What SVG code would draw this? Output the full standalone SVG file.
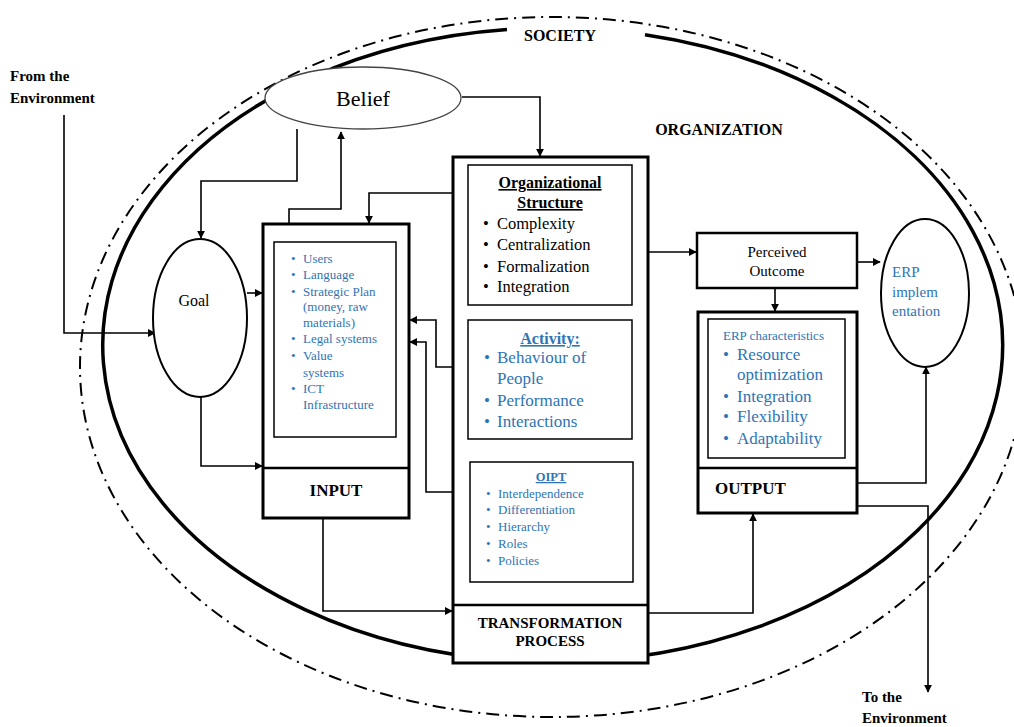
<svg xmlns="http://www.w3.org/2000/svg" width="1014" height="727" viewBox="0 0 1014 727" font-family="'Liberation Serif', serif">
<style>
.t{font-family:"Liberation Serif","Times New Roman",serif;fill:#000}
.b{font-weight:bold}
.blue{fill:#2e74b5}
.box{fill:#fff;stroke:#000;stroke-width:3}
.inbox{fill:#fff;stroke:#000;stroke-width:1.5}
.ln{fill:none;stroke:#000;stroke-width:1.6}
.u{text-decoration:underline}
</style>
<defs>
<marker id="ah" viewBox="0 0 10 10" refX="9" refY="5" markerWidth="8" markerHeight="8" markerUnits="userSpaceOnUse" orient="auto"><path d="M0,0 L10,5 L0,10 z" fill="#000"/></marker>
</defs>
<rect width="1014" height="727" fill="#fff"/>
<g id="society">
<ellipse cx="552" cy="367" rx="472" ry="350" fill="none" stroke="#000" stroke-width="2" stroke-dasharray="13 6 2 6"/>
<text class="t b" x="560" y="41" font-size="16" text-anchor="middle">SOCIETY</text>
</g>
<g id="organization">
<path d="M645 34.7 A450 317 0 1 1 507 29.6" fill="none" stroke="#000" stroke-width="3.5"/>
<text class="t b" x="719" y="135" font-size="16" text-anchor="middle">ORGANIZATION</text>
</g>
<g id="env-in">
<text class="t b" x="10" y="81" font-size="15">From the</text>
<text class="t b" x="10" y="103" font-size="15">Environment</text>
</g>
<g id="env-out">
<text class="t b" x="862" y="702" font-size="15">To the</text>
<text class="t b" x="862" y="723" font-size="15">Environment</text>
</g>
<g id="connectors">
<polyline class="ln" points="64,115 64,333 155,333" marker-end="url(#ah)"/>
<polyline class="ln" points="297,129 297,181 201,181 201,238" marker-end="url(#ah)"/>
<polyline class="ln" points="289,223 289,209 341,209 341,132" marker-end="url(#ah)"/>
<polyline class="ln" points="462,97 540,97 540,156" marker-end="url(#ah)"/>
<polyline class="ln" points="454,193 369,193 369,223" marker-end="url(#ah)"/>
<line class="ln" x1="247" y1="293" x2="262" y2="293" marker-end="url(#ah)"/>
<polyline class="ln" points="201,397 201,466 262,466" marker-end="url(#ah)"/>
<polyline class="ln" points="453,367 436,367 436,320 410,320" marker-end="url(#ah)"/>
<polyline class="ln" points="453,492 426,492 426,342 410,342" marker-end="url(#ah)"/>
<polyline class="ln" points="323,518 323,611 452,611" marker-end="url(#ah)" stroke-width="2"/>
<polyline class="ln" points="648,613 753,613 753,514" marker-end="url(#ah)" stroke-width="2"/>
<line class="ln" x1="648" y1="252" x2="696" y2="252" marker-end="url(#ah)"/>
<line class="ln" x1="857" y1="262" x2="880" y2="262" marker-end="url(#ah)"/>
<line class="ln" x1="775" y1="288" x2="775" y2="311" marker-end="url(#ah)"/>
<polyline class="ln" points="857,483 926,483 926,367" marker-end="url(#ah)"/>
<polyline class="ln" points="857,506 928,506 928,692" marker-end="url(#ah)"/>
<line class="ln" x1="537" y1="305" x2="537" y2="319" marker-end="url(#ah)"/>
<line class="ln" x1="537" y1="439" x2="537" y2="460" marker-end="url(#ah)"/>
</g>
<g id="belief">
<ellipse cx="363" cy="98" rx="98" ry="31" fill="#fff" stroke="#444" stroke-width="1.3"/>
<text class="t" x="363" y="106" font-size="22" text-anchor="middle">Belief</text>
</g>
<g id="goal">
<ellipse cx="200" cy="318" rx="47" ry="79" fill="#fff" stroke="#000" stroke-width="2"/>
<text class="t" x="194" y="306" font-size="16" text-anchor="middle">Goal</text>
</g>
<g id="input">
<rect class="box" x="263" y="224" width="146" height="294"/>
<line x1="263" y1="468" x2="409" y2="468" stroke="#000" stroke-width="2.5"/>
<rect class="inbox" x="274" y="242" width="122" height="195"/>
<g class="t blue" font-size="13">
<text x="291" y="263">•</text><text x="303" y="263">Users</text>
<text x="291" y="279">•</text><text x="303" y="279">Language</text>
<text x="291" y="296">•</text><text x="303" y="296">Strategic Plan</text>
<text x="303" y="311">(money, raw</text>
<text x="303" y="327">materials)</text>
<text x="291" y="343">•</text><text x="303" y="343">Legal systems</text>
<text x="291" y="360">•</text><text x="303" y="360">Value</text>
<text x="303" y="377">systems</text>
<text x="291" y="393">•</text><text x="303" y="393">ICT</text>
<text x="303" y="409">Infrastructure</text>
</g>
<text class="t b" x="336" y="496" font-size="17" text-anchor="middle">INPUT</text>
</g>
<g id="transformation">
<rect class="box" x="453" y="157" width="195" height="506"/>
<line x1="453" y1="605" x2="648" y2="605" stroke="#000" stroke-width="2.5"/>
<text class="t b" x="550" y="628" font-size="15" text-anchor="middle">TRANSFORMATION</text>
<text class="t b" x="550" y="646" font-size="15" text-anchor="middle">PROCESS</text>
</g>
<g id="org-structure">
<rect class="inbox" x="468" y="165" width="164" height="140"/>
<text class="t b u" x="550" y="188" font-size="16" text-anchor="middle">Organizational</text>
<text class="t b u" x="550" y="208" font-size="16" text-anchor="middle">Structure</text>
<g class="t" font-size="16.5">
<text x="483" y="229">•</text><text x="497" y="229">Complexity</text>
<text x="483" y="250">•</text><text x="497" y="250">Centralization</text>
<text x="483" y="272">•</text><text x="497" y="272">Formalization</text>
<text x="483" y="292">•</text><text x="497" y="292">Integration</text>
</g>
</g>
<g id="activity">
<rect class="inbox" x="468" y="320" width="164" height="119"/>
<text class="t b u blue" x="550" y="344" font-size="16" text-anchor="middle">Activity:</text>
<g class="t blue" font-size="17">
<text x="484" y="363">•</text><text x="497" y="363">Behaviour of</text>
<text x="497" y="384">People</text>
<text x="484" y="406">•</text><text x="497" y="406">Performance</text>
<text x="484" y="427">•</text><text x="497" y="427">Interactions</text>
</g>
</g>
<g id="oipt">
<rect class="inbox" x="470" y="462" width="163" height="120"/>
<text class="t u blue b" x="551" y="481" font-size="12.5" text-anchor="middle">OIPT</text>
<g class="t blue" font-size="13">
<text x="486" y="498">•</text><text x="498" y="498">Interdependence</text>
<text x="486" y="514">•</text><text x="498" y="514">Differentiation</text>
<text x="486" y="531">•</text><text x="498" y="531">Hierarchy</text>
<text x="486" y="548">•</text><text x="498" y="548">Roles</text>
<text x="486" y="565">•</text><text x="498" y="565">Policies</text>
</g>
</g>
<g id="perceived-outcome">
<rect x="697" y="233" width="160" height="55" fill="#fff" stroke="#000" stroke-width="2.5"/>
<text class="t" x="777" y="257" font-size="15" text-anchor="middle">Perceived</text>
<text class="t" x="777" y="276" font-size="15" text-anchor="middle">Outcome</text>
</g>
<g id="output">
<rect class="box" x="698" y="312" width="159" height="201"/>
<line x1="698" y1="468" x2="857" y2="468" stroke="#000" stroke-width="2.5"/>
<rect class="inbox" x="708" y="319" width="137" height="139"/>
<text class="t blue" x="723" y="340" font-size="13">ERP characteristics</text>
<g class="t blue" font-size="17">
<text x="723" y="360">•</text><text x="737" y="360">Resource</text>
<text x="737" y="380">optimization</text>
<text x="723" y="402">•</text><text x="737" y="402">Integration</text>
<text x="723" y="422">•</text><text x="737" y="422">Flexibility</text>
<text x="723" y="444">•</text><text x="737" y="444">Adaptability</text>
</g>
<text class="t b" x="715" y="494" font-size="17">OUTPUT</text>
</g>
<g id="erp-implementation">
<ellipse cx="925" cy="293" rx="44" ry="74" fill="#fff" stroke="#000" stroke-width="2"/>
<g class="t blue" font-size="15">
<text x="892" y="277">ERP</text>
<text x="892" y="297">implem</text>
<text x="892" y="316">entation</text>
</g>
</g>
</svg>
